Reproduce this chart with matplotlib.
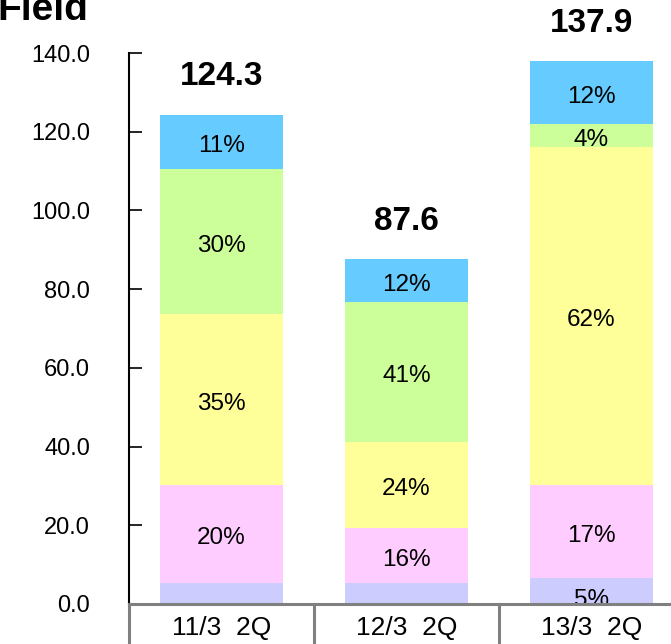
import numpy as np
import matplotlib
matplotlib.use('Agg')
import matplotlib.pyplot as plt

plt.rcParams['font.family'] = ['Liberation Sans', 'DejaVu Sans']

# data
categories = ['11/3  2Q', '12/3  2Q', '13/3  2Q']
totals = [124.3, 87.6, 137.9]
lavender = [5.3, 5.3, 6.6]
pink = [24.9, 14.0, 23.6]
yellow = [43.5, 21.9, 85.9]
green = [36.8, 35.5, 5.9]
blue = [13.8, 10.9, 15.9]
lavender_pct = ['', '', '5%']
pink_pct = ['20%', '16%', '17%']
yellow_pct = ['35%', '24%', '62%']
green_pct = ['30%', '41%', '4%']
blue_pct = ['11%', '12%', '12%']

series = [lavender, pink, yellow, green, blue]
pcts = [lavender_pct, pink_pct, yellow_pct, green_pct, blue_pct]
colors = ['#CCCCFF', '#FFCCFF', '#FFFF99', '#CCFF99', '#66CCFF']

fig = plt.figure(figsize=(6.71, 6.44), dpi=100)
ax = fig.add_axes([129/671, 1 - 604/644, 1 - 129/671, (604 - 53)/644])

x = np.arange(len(categories))
bottom = np.zeros(len(categories))
for k, (vals, lab, c) in enumerate(zip(series, pcts, colors)):
    ax.bar(x, vals, 0.66, bottom=bottom, color=c, edgecolor='none', zorder=2)
    # bottom labels sit a little low and get cut by the table line
    off = -2.3 if k == 0 else -1.1
    for i in range(len(x)):
        if lab[i]:
            ax.text(x[i], bottom[i] + vals[i] / 2 + off, lab[i], ha='center', va='center',
                    fontsize=17.5, clip_on=True, zorder=3)
    bottom = bottom + np.array(vals)

for i in range(len(x)):
    ax.text(x[i], totals[i] + 9.7, '%.1f' % totals[i], ha='center', va='center',
            fontsize=24, fontweight='bold', clip_on=False)

ax.set_xlim(-0.5, 2.43)
ax.set_ylim(0, 140)
ax.set_yticks(np.arange(0, 141, 20))
ax.set_yticklabels(['%.1f' % v for v in np.arange(0, 141, 20)], fontsize=17)
ax.tick_params(axis='y', direction='in', length=9, width=1.2, pad=28)
ax.set_xticks([])
for s in ['top', 'right', 'bottom']:
    ax.spines[s].set_visible(False)
ax.spines['left'].set_linewidth(1.5)

# category table under the bars
ax.plot([-0.5, 2.6], [0, 0], color='#808080', lw=2.2, clip_on=False, zorder=4)
for xv in [-0.5, 0.5, 1.5]:
    ax.plot([xv, xv], [0, -12], color='#808080', lw=2.2, clip_on=False, zorder=4)
for i in range(len(x)):
    ax.text(x[i], -6.2, categories[i], ha='center', va='center', fontsize=19)

fig.text(-0.004, 1 - 20/644, 'Field', fontsize=28, fontweight='bold', va='baseline', ha='left')

fig.savefig('out.png', dpi=100)
